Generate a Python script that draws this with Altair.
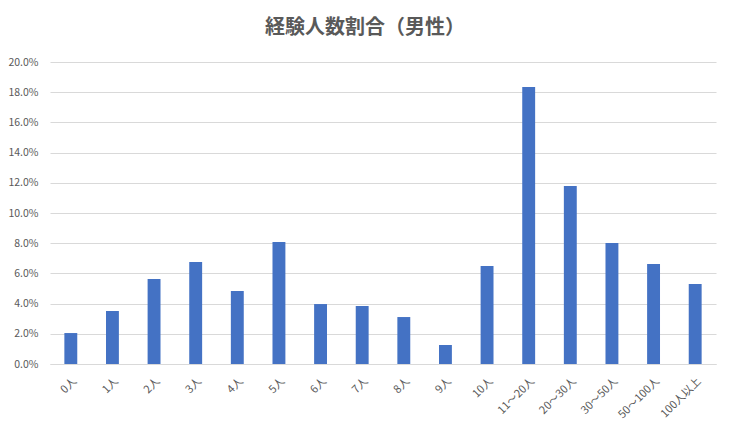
import altair as alt
import pandas as pd

categories = ["0人", "1人", "2人", "3人", "4人", "5人", "6人", "7人", "8人", "9人",
              "10人", "11～20人", "20～30人", "30～50人", "50～100人", "100人以上"]
shares = [0.0205, 0.0351, 0.0563, 0.0675, 0.0483, 0.0808, 0.0397, 0.0384,
          0.0311, 0.0126, 0.0649, 0.1834, 0.1179, 0.0801, 0.0662, 0.0530]
title_text = "経験人数割合（男性）"
y_ticks = [0.0, 0.02, 0.04, 0.06, 0.08, 0.10, 0.12, 0.14, 0.16, 0.18, 0.20]

df = pd.DataFrame({"cat": categories, "share": shares})
tdf = pd.DataFrame({"t": [title_text]})

FONT = "Noto Sans CJK JP"
GRAY = "#595959"

bars = alt.Chart(df).mark_bar(color="#4472C4").encode(
    x=alt.X("cat:N", sort=categories, title=None,
            scale=alt.Scale(paddingInner=0.69, paddingOuter=0.345),
            axis=alt.Axis(labelAngle=-45, labelFontSize=11, labelColor=GRAY,
                          labelFont=FONT, ticks=False, domainColor="#d9d9d9",
                          labelPadding=11, labelOffset=0)),
    y=alt.Y("share:Q", title=None,
            scale=alt.Scale(domain=[0, 0.2], nice=False),
            axis=alt.Axis(values=y_ticks, format=".1%", labelFontSize=10.5,
                          labelColor=GRAY, labelFont=FONT, ticks=False,
                          domain=False, gridColor="#d9d9d9", labelPadding=12)),
)

title = alt.Chart(tdf).mark_text(
    font=FONT, fontSize=20, fontWeight="bold", color=GRAY,
    align="center", baseline="middle",
).encode(x=alt.value(315), y=alt.value(-34), text="t:N")

chart = alt.layer(bars, title).properties(
    width=666, height=302,
    autosize=alt.AutoSizeParams(type="none"),
    padding={"left": 42, "top": 54, "right": 6, "bottom": 62},
    background="white",
).configure_view(stroke=None)

chart.save("out.html", embed_options={"renderer": "svg", "actions": False})
